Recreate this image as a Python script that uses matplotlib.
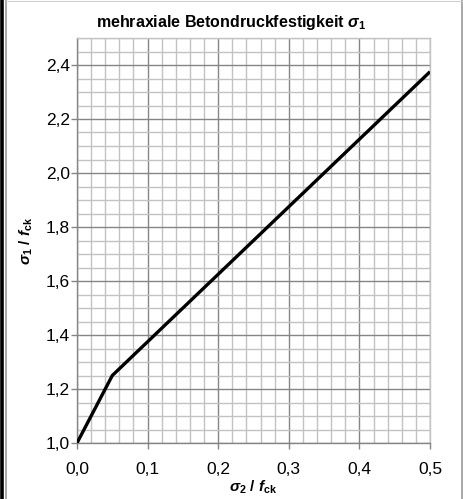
import matplotlib
matplotlib.use("Agg")
import matplotlib.pyplot as plt
from matplotlib.ticker import MultipleLocator, FuncFormatter
from matplotlib.lines import Line2D

plt.rcParams['font.family'] = ['Liberation Sans', 'DejaVu Sans']
plt.rcParams['mathtext.fontset'] = 'custom'
plt.rcParams['mathtext.rm'] = 'Liberation Sans:bold'
plt.rcParams['mathtext.it'] = 'Liberation Sans:italic:bold'
plt.rcParams['mathtext.bf'] = 'Liberation Sans:bold'

# Multiaxial compressive strength curve (sigma2/fck -> sigma1/fck)
sigma2_ratio = [0.0, 0.05, 0.5]
sigma1_ratio = [1.0, 1.25, 2.375]

x_ticks = [0.0, 0.1, 0.2, 0.3, 0.4, 0.5]
y_ticks = [1.0, 1.2, 1.4, 1.6, 1.8, 2.0, 2.2, 2.4]

fig = plt.figure(figsize=(4.63, 4.99), dpi=100)
ax = fig.add_axes([77 / 463, 56 / 499, 353 / 463, 405 / 499])

ax.plot(sigma2_ratio, sigma1_ratio, color='black', lw=2.4, solid_capstyle='butt', zorder=5)

ax.set_xlim(0, 0.5)
ax.set_ylim(1.0, 2.5)
ax.set_xticks(x_ticks)
ax.set_yticks(y_ticks)
ax.xaxis.set_minor_locator(MultipleLocator(0.02))
ax.yaxis.set_minor_locator(MultipleLocator(0.05))
comma = FuncFormatter(lambda v, p: f"{v:.1f}".replace('.', ','))
ax.xaxis.set_major_formatter(comma)
ax.yaxis.set_major_formatter(comma)

ax.grid(which='minor', color='#c2c2c2', lw=1.0)
ax.grid(which='major', color='#858585', lw=1.0)
ax.set_axisbelow(True)
ax.tick_params(which='major', length=4, width=1.0, color='#858585', labelsize=12.5)
ax.tick_params(axis='x', which='major', pad=10)
ax.tick_params(axis='y', which='major', pad=1)
ax.tick_params(which='minor', length=0)
for s in ax.spines.values():
    s.set_color('#858585')
    s.set_linewidth(1.0)
ax.spines['top'].set_color('#c2c2c2')
ax.spines['right'].set_color('#c2c2c2')

ax.set_xlabel(r'$\sigma_\mathbf{2}$ / $f_\mathbf{ck}$', fontsize=11, fontweight='bold', labelpad=1)
ax.set_ylabel(r'$\sigma_\mathbf{1}$ / $f_\mathbf{ck}$', fontsize=11, fontweight='bold', labelpad=8)

fig.text(0.5, 1 - 22 / 499, r'mehraxiale Betondruckfestigkeit $\sigma_\mathbf{1}$',
         ha='center', va='center', fontsize=11.5, fontweight='bold')

# Frame around the figure
fig.add_artist(Line2D([1.5 / 463, 1.5 / 463], [0, 1], color='black', lw=2.6))
fig.add_artist(Line2D([5.5 / 463, 5.5 / 463], [0, 1], color='#9a9a9a', lw=1.2))
fig.add_artist(Line2D([461.5 / 463, 461.5 / 463], [0, 1], color='#9a9a9a', lw=1.2))
fig.add_artist(Line2D([5.5 / 463, 461.5 / 463], [1 - 0.5 / 499, 1 - 0.5 / 499], color='#d0d0d0', lw=0.8))

fig.savefig('out.png', dpi=100)
